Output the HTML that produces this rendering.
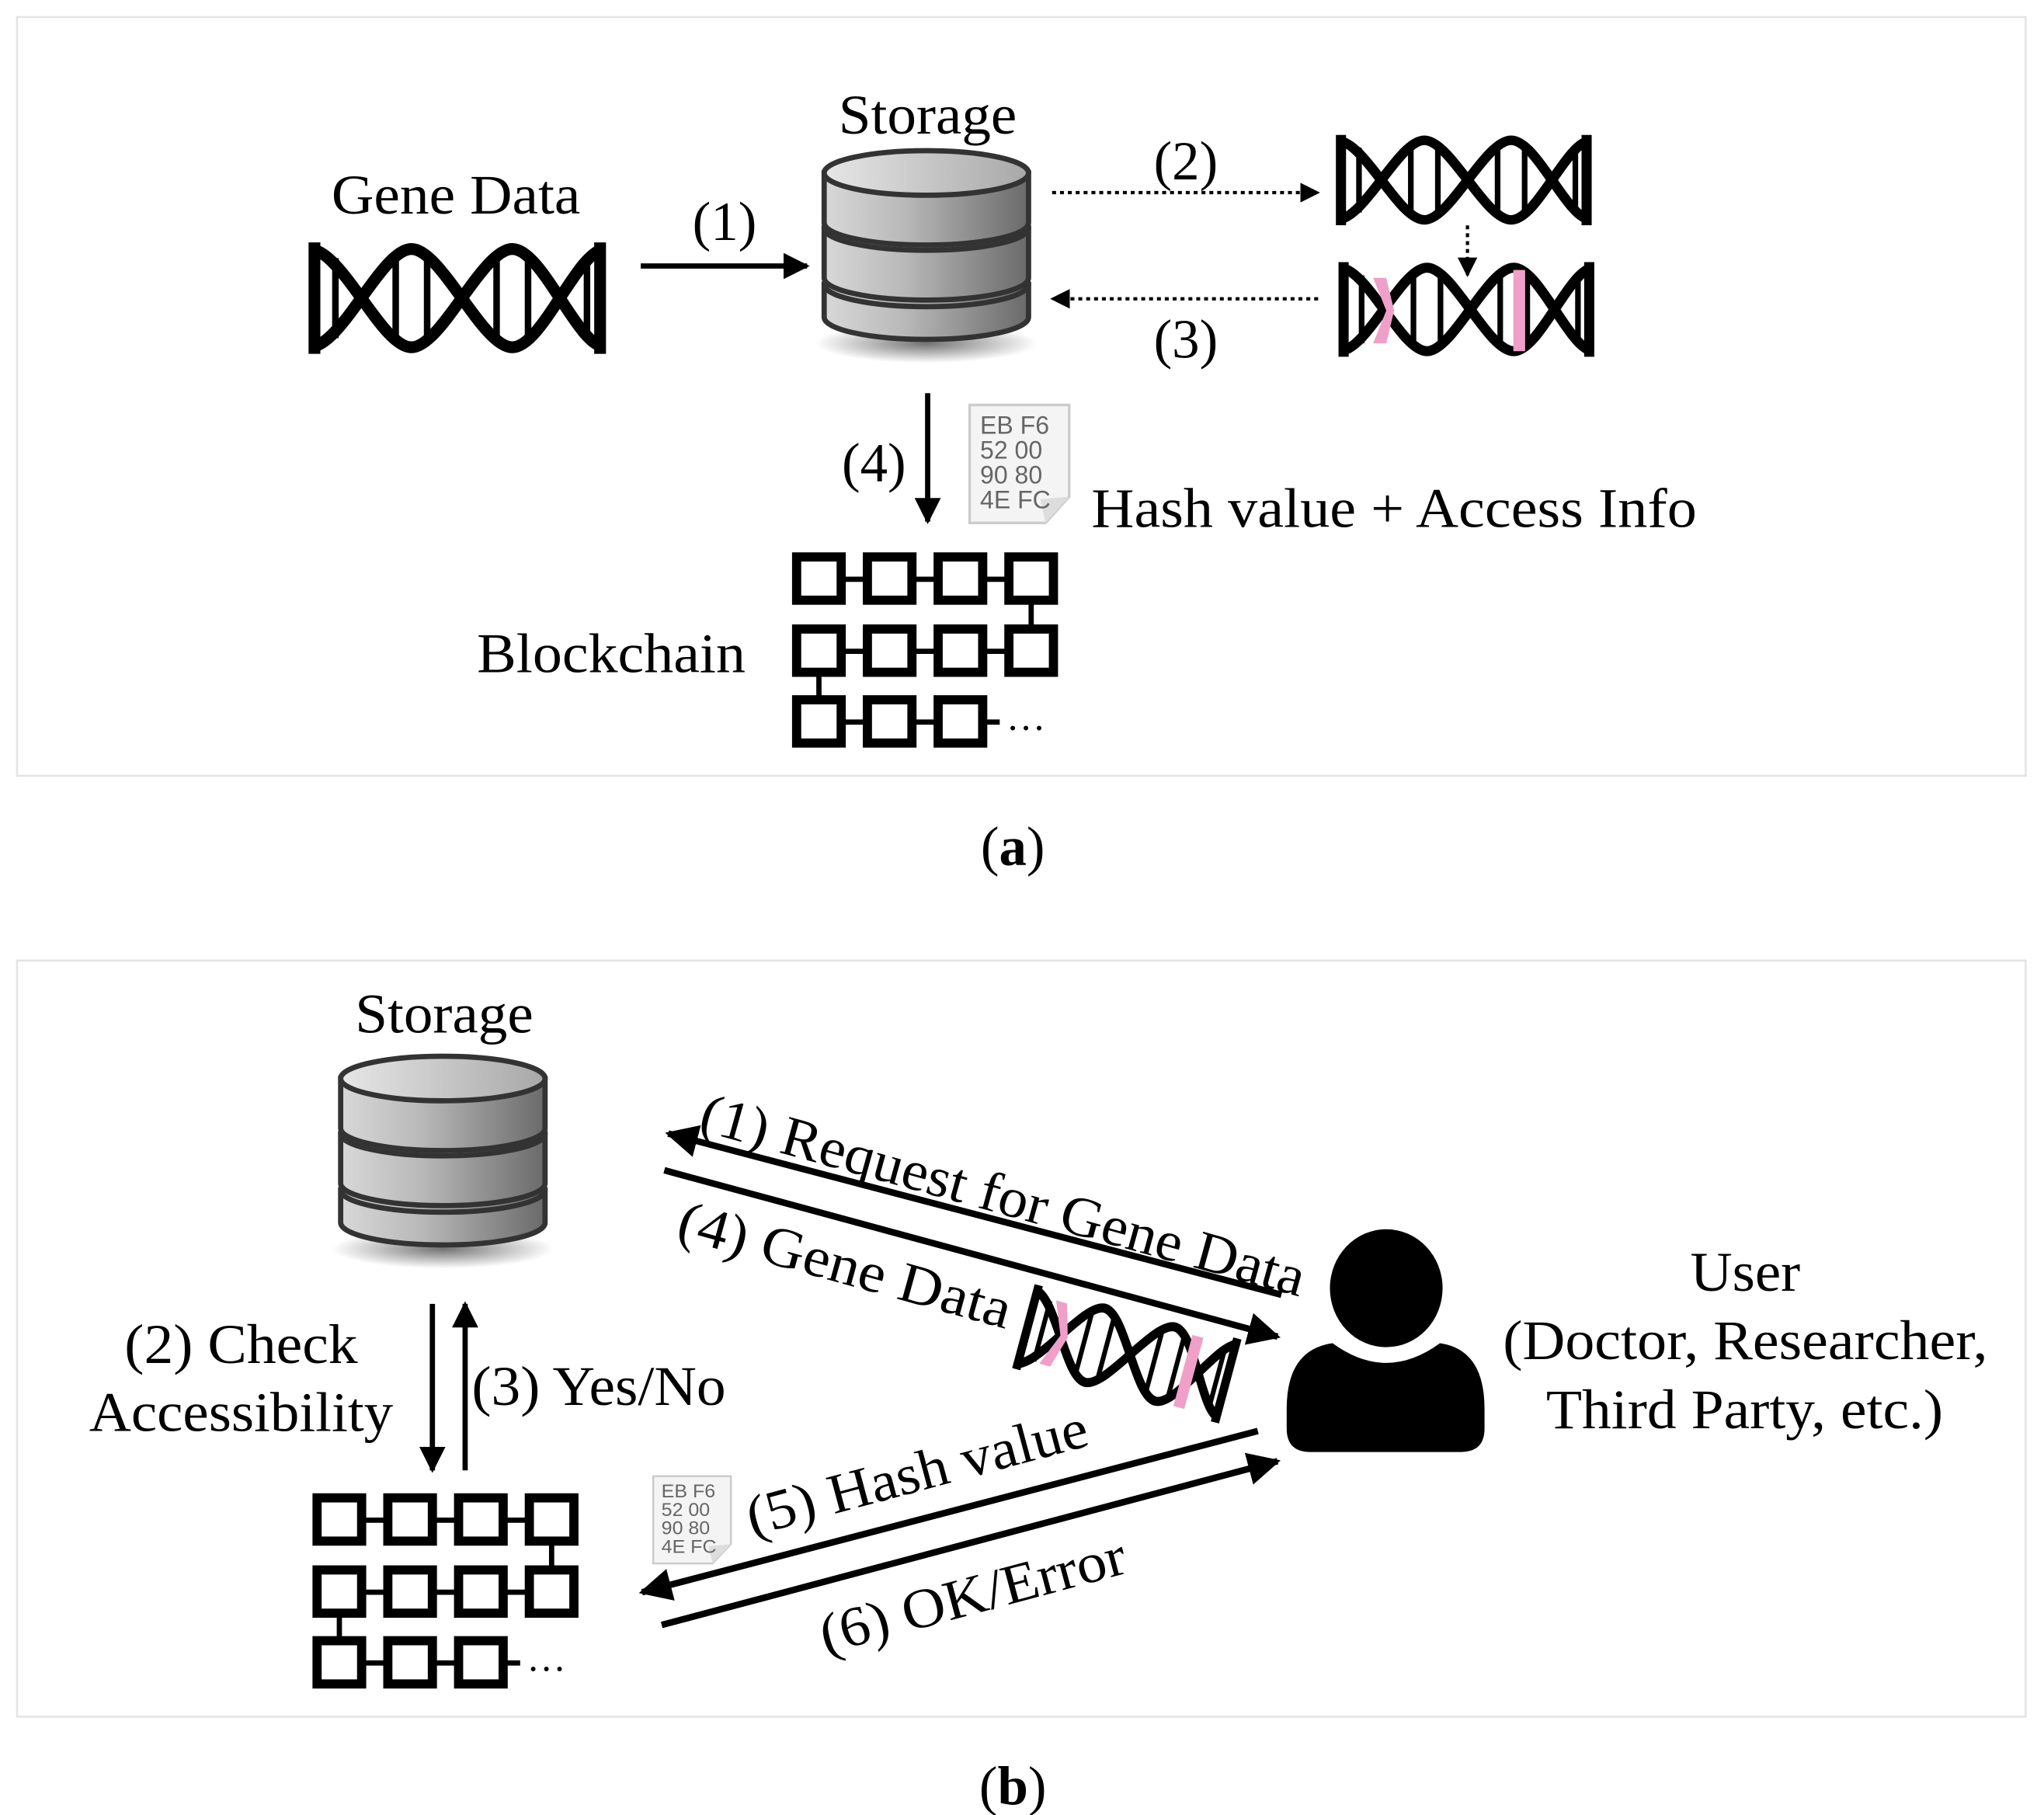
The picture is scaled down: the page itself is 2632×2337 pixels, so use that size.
<!DOCTYPE html>
<html><head><meta charset="utf-8"><style>
html,body{margin:0;padding:0;background:#fff;width:2632px;height:2337px;overflow:hidden}
svg{display:block}
text{font-family:"Liberation Serif",serif;fill:#000}
</style></head><body>
<svg width="2632" height="2337" viewBox="0 0 1560 1385" preserveAspectRatio="none" xmlns="http://www.w3.org/2000/svg">
<defs>
<linearGradient id="cyl" x1="0" x2="1" y1="0" y2="0">
<stop offset="0" stop-color="#d8d8d8"/><stop offset="0.4" stop-color="#b8b8b8"/><stop offset="1" stop-color="#6a6a6a"/>
</linearGradient>
<linearGradient id="topg" x1="0" x2="1"><stop offset="0" stop-color="#e6e6e6"/><stop offset="1" stop-color="#a8a8a8"/></linearGradient>
<radialGradient id="shadow" cx="0.5" cy="0.5" r="0.5"><stop offset="0" stop-color="#000" stop-opacity="0.55"/><stop offset="1" stop-color="#000" stop-opacity="0"/></radialGradient>
<marker id="ah" viewBox="0 0 10 10" refX="9" refY="5" markerWidth="5" markerHeight="5" orient="auto-start-reverse" markerUnits="strokeWidth"><path d="M0,0L10,5L0,10z" fill="#000"/></marker>
<marker id="ahs" viewBox="0 0 10 10" refX="9" refY="5" markerWidth="6" markerHeight="6" orient="auto" markerUnits="strokeWidth"><path d="M0,0L10,5L0,10z" fill="#000"/></marker>
<g id="dna">
<g stroke="#000" stroke-width="5">
<line x1="20" y1="12" x2="20" y2="73"/><line x1="66" y1="12" x2="66" y2="73"/><line x1="90" y1="12" x2="90" y2="73"/>
<line x1="143" y1="12" x2="143" y2="73"/><line x1="167" y1="12" x2="167" y2="73"/><line x1="212" y1="12" x2="212" y2="73"/>
</g>
<g fill="none" stroke="#000" stroke-width="9">
<path d="M0,5 C25,5 55,80 78,80 C101,80 132,5 155,5 C178,5 205,80 226,80"/>
<path d="M0,80 C25,80 55,5 78,5 C101,5 132,80 155,80 C178,80 205,5 226,5"/>
<line x1="4" y1="0" x2="4" y2="85"/><line x1="222" y1="0" x2="222" y2="85"/>
</g>
</g>
<g id="db">
<ellipse cx="80" cy="150" rx="85" ry="15" fill="url(#shadow)"/>
<g stroke="#333" stroke-width="4">
<path d="M2,105 v25 a78,17 0 0 0 156,0 v-25 z" fill="url(#cyl)"/>
<ellipse cx="80" cy="105" rx="78" ry="17" fill="url(#cyl)"/>
<path d="M2,62 v38 a78,17 0 0 0 156,0 v-38 z" fill="url(#cyl)"/>
<ellipse cx="80" cy="62" rx="78" ry="17" fill="url(#cyl)"/>
<path d="M2,20 v38 a78,17 0 0 0 156,0 v-38 z" fill="url(#cyl)"/>
<ellipse cx="80" cy="20" rx="78" ry="17" fill="url(#topg)"/>
</g>
</g>
<g id="bc" fill="none" stroke="#000" stroke-width="7">
<rect x="3" y="3" width="34" height="33"/><rect x="57" y="3" width="34" height="33"/><rect x="111" y="3" width="34" height="33"/><rect x="165" y="3" width="34" height="33"/>
<rect x="3" y="58" width="34" height="33"/><rect x="57" y="58" width="34" height="33"/><rect x="111" y="58" width="34" height="33"/><rect x="165" y="58" width="34" height="33"/>
<rect x="3" y="112" width="34" height="33"/><rect x="57" y="112" width="34" height="33"/><rect x="111" y="112" width="34" height="33"/>
<g stroke-width="4">
<line x1="37" y1="20" x2="57" y2="20"/><line x1="91" y1="20" x2="111" y2="20"/><line x1="145" y1="20" x2="165" y2="20"/>
<line x1="37" y1="75" x2="57" y2="75"/><line x1="91" y1="75" x2="111" y2="75"/><line x1="145" y1="75" x2="165" y2="75"/>
<line x1="37" y1="129" x2="57" y2="129"/><line x1="91" y1="129" x2="111" y2="129"/><line x1="145" y1="129" x2="158" y2="129"/>
<line x1="182" y1="36" x2="182" y2="58"/><line x1="20" y1="91" x2="20" y2="112"/>
</g>
</g>
<g id="hash">
<path d="M2,2 h76 v70 l-18,20 h-58 z" fill="#f4f4f4" stroke="#ccc" stroke-width="2"/>
<path d="M78,72 l-22,2 l4,18 z" fill="#ddd"/>
<text x="10" y="24" font-size="19" fill="#666" style="font-family:'Liberation Sans',sans-serif;fill:#666">EB F6</text>
<text x="10" y="43" font-size="19" style="font-family:'Liberation Sans',sans-serif;fill:#666">52 00</text>
<text x="10" y="62" font-size="19" style="font-family:'Liberation Sans',sans-serif;fill:#666">90 80</text>
<text x="10" y="81" font-size="19" style="font-family:'Liberation Sans',sans-serif;fill:#666">4E FC</text>
</g>
</defs>

<rect x="13" y="13" width="1533" height="579" fill="none" stroke="#e4e4e4" stroke-width="1.5"/>
<rect x="13" y="733" width="1533" height="577" fill="none" stroke="#e4e4e4" stroke-width="1.5"/>

<!-- (a) -->
<text x="253" y="163" font-size="43" textLength="190" lengthAdjust="spacingAndGlyphs">Gene Data</text>
<use href="#dna" transform="translate(236,185)"/>
<text x="640" y="102" font-size="43" textLength="136" lengthAdjust="spacingAndGlyphs">Storage</text>
<use href="#db" transform="translate(627,112)"/>
<text x="553" y="183" font-size="42" text-anchor="middle">(1)</text>
<line x1="489" y1="203" x2="616" y2="203" stroke="#000" stroke-width="4" marker-end="url(#ah)"/>
<text x="905" y="137" font-size="42" text-anchor="middle">(2)</text>
<line x1="803" y1="147" x2="1006" y2="147" stroke="#000" stroke-width="2.5" stroke-dasharray="3,3" marker-end="url(#ahs)"/>
<use href="#dna" transform="translate(1020,103) scale(0.86,0.81)"/>
<line x1="1120" y1="172" x2="1120" y2="210" stroke="#000" stroke-width="2.5" stroke-dasharray="3,3" marker-end="url(#ahs)"/>
<use href="#dna" transform="translate(1022,200) scale(0.86,0.85)"/>
<path d="M1048,212 l10,25 l-10,25 l10,0 l6,-25 l-6,-25z" fill="#f0a0c8"/>
<rect x="1155" y="206" width="9" height="62" fill="#f0a0c8"/>
<line x1="1006" y1="228" x2="803" y2="228" stroke="#000" stroke-width="2.5" stroke-dasharray="3,3" marker-end="url(#ahs)"/>
<text x="905" y="273" font-size="42" text-anchor="middle">(3)</text>
<line x1="708" y1="300" x2="708" y2="398" stroke="#000" stroke-width="4" marker-end="url(#ah)"/>
<text x="667" y="367" font-size="42" text-anchor="middle">(4)</text>
<use href="#hash" transform="translate(738,307)"/>
<text x="833" y="402" font-size="43" textLength="462" lengthAdjust="spacingAndGlyphs">Hash value + Access Info</text>
<text x="364" y="513" font-size="43" textLength="205" lengthAdjust="spacingAndGlyphs">Blockchain</text>
<use href="#bc" transform="translate(605,422)"/>
<text x="768" y="557" font-size="30">…</text>
<text x="773" y="660" font-size="42" text-anchor="middle">(<tspan font-weight="bold">a</tspan>)</text>

<!-- (b) -->
<text x="271" y="788" font-size="43" textLength="136" lengthAdjust="spacingAndGlyphs">Storage</text>
<use href="#db" transform="translate(258,803)"/>
<line x1="330" y1="995" x2="330" y2="1122" stroke="#000" stroke-width="4" marker-end="url(#ah)"/>
<line x1="355" y1="1122" x2="355" y2="995" stroke="#000" stroke-width="4" marker-end="url(#ah)"/>
<text x="95" y="1040" font-size="43" textLength="178" lengthAdjust="spacingAndGlyphs">(2) Check</text>
<text x="68" y="1092" font-size="43" textLength="232" lengthAdjust="spacingAndGlyphs">Accessibility</text>
<text x="360" y="1072" font-size="43" textLength="194" lengthAdjust="spacingAndGlyphs">(3) Yes/No</text>
<use href="#bc" transform="translate(239,1140)"/>
<text x="402" y="1275" font-size="30">…</text>
<use href="#hash" transform="translate(497,1125) scale(0.78,0.74)"/>

<line x1="978" y1="988" x2="510" y2="865" stroke="#000" stroke-width="5" marker-end="url(#ah)"/>
<line x1="507" y1="893" x2="975" y2="1020" stroke="#000" stroke-width="5" marker-end="url(#ah)"/>
<text transform="translate(532,862) rotate(15.5)" font-size="43" textLength="477" lengthAdjust="spacingAndGlyphs">(1) Request for Gene Data</text>
<text transform="translate(515,944) rotate(15.5)" font-size="43" textLength="262" lengthAdjust="spacingAndGlyphs">(4) Gene Data</text>
<g transform="translate(790,980) rotate(15) scale(0.72,0.78)">
<use href="#dna"/>
<path d="M26,10 l14,32 l-14,32 l12,0 l10,-32 l-10,-32z" fill="#f0a0c8"/>
<rect x="175" y="8" width="12" height="72" fill="#f0a0c8"/>
</g>
<line x1="960" y1="1092" x2="490" y2="1215" stroke="#000" stroke-width="5" marker-end="url(#ah)"/>
<line x1="505" y1="1240" x2="975" y2="1115" stroke="#000" stroke-width="5" marker-end="url(#ah)"/>
<text transform="translate(574,1172) rotate(-15)" font-size="43" textLength="268" lengthAdjust="spacingAndGlyphs">(5) Hash value</text>
<text transform="translate(630,1262) rotate(-15)" font-size="43" textLength="240" lengthAdjust="spacingAndGlyphs">(6) OK/Error</text>

<ellipse cx="1058" cy="983" rx="43" ry="45" fill="#000"/>
<path d="M1017,1025 Q1058,1055 1099,1025 Q1133,1030 1133,1075 L1133,1090 Q1133,1108 1115,1108 L1000,1108 Q982,1108 982,1090 L982,1075 Q982,1030 1017,1025z" fill="#000"/>
<text x="1290" y="985" font-size="43" textLength="84" lengthAdjust="spacingAndGlyphs">User</text>
<text x="1147" y="1037" font-size="43" textLength="370" lengthAdjust="spacingAndGlyphs">(Doctor, Researcher,</text>
<text x="1180" y="1090" font-size="43" textLength="303" lengthAdjust="spacingAndGlyphs">Third Party, etc.)</text>
<text x="773" y="1377" font-size="42" text-anchor="middle">(<tspan font-weight="bold">b</tspan>)</text>
</svg>
</body></html>
